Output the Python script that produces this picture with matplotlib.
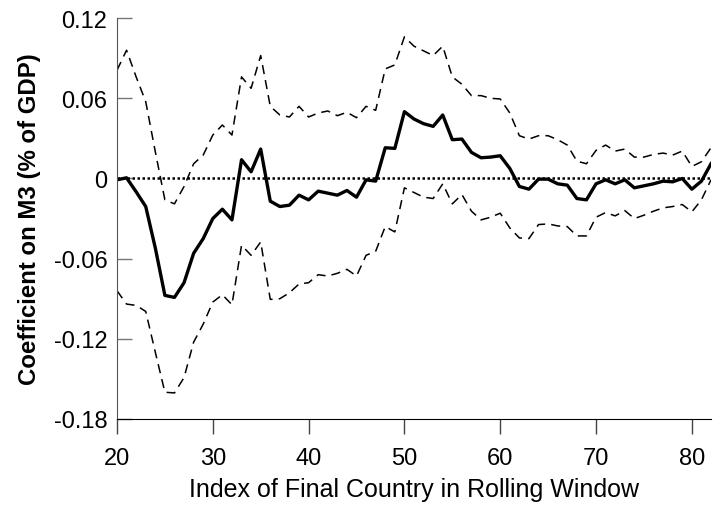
import matplotlib
matplotlib.use("Agg")
import matplotlib.pyplot as plt
import numpy as np

plt.rcParams['font.family'] = ['Liberation Sans', 'DejaVu Sans']

# index of final country in the rolling window
idx = list(range(20, 83))

# point estimate
coef = [-0.001, 0.0005, -0.010, -0.021, -0.052, -0.0875, -0.089, -0.078, -0.056, -0.045,
        -0.030, -0.023, -0.031, 0.014, 0.005, 0.022, -0.017, -0.021, -0.020, -0.0125,
        -0.016, -0.0095, -0.011, -0.0125, -0.009, -0.014, -0.001, -0.002, 0.023, 0.0225,
        0.050, 0.0445, 0.041, 0.039, 0.0475, 0.029, 0.0295, 0.0195, 0.0155, 0.016,
        0.017, 0.0075, -0.006, -0.008, -0.0005, -0.0005, -0.004, -0.005, -0.015, -0.016,
        -0.004, -0.001, -0.004, -0.001, -0.007, -0.0055, -0.004, -0.002, -0.0025, 0.0,
        -0.008, -0.002, 0.011]

# upper band
upper = [0.081, 0.096, 0.076, 0.0575, 0.020, -0.016, -0.019, -0.006, 0.011, 0.0175,
         0.0325, 0.040, 0.0325, 0.076, 0.0675, 0.092, 0.054, 0.0475, 0.046, 0.054,
         0.046, 0.049, 0.0505, 0.047, 0.0495, 0.0455, 0.054, 0.051, 0.082, 0.085,
         0.106, 0.099, 0.0955, 0.092, 0.099, 0.076, 0.0705, 0.062, 0.062, 0.060,
         0.0595, 0.049, 0.032, 0.0295, 0.032, 0.032, 0.029, 0.025, 0.013, 0.011,
         0.021, 0.025, 0.0205, 0.022, 0.016, 0.016, 0.018, 0.019, 0.0175, 0.0205,
         0.009, 0.0125, 0.023]

# lower band
lower = [-0.084, -0.094, -0.095, -0.0995, -0.130, -0.160, -0.1605, -0.149, -0.1225, -0.109,
         -0.0925, -0.087, -0.0945, -0.050, -0.0575, -0.0475, -0.0905, -0.090, -0.0855, -0.079,
         -0.078, -0.072, -0.073, -0.071, -0.068, -0.073, -0.0575, -0.0545, -0.036, -0.040,
         -0.007, -0.0105, -0.014, -0.015, -0.004, -0.019, -0.012, -0.0245, -0.031, -0.029,
         -0.026, -0.037, -0.0445, -0.045, -0.0345, -0.034, -0.0355, -0.036, -0.043, -0.043,
         -0.029, -0.0255, -0.028, -0.024, -0.030, -0.0275, -0.0245, -0.022, -0.021, -0.0195,
         -0.025, -0.016, -0.001]

yticks = [-0.18, -0.12, -0.06, 0, 0.06, 0.12]
ytick_labels = ['-0.18', '-0.12', '-0.06', '0', '0.06', '0.12']
xticks = [20, 30, 40, 50, 60, 70, 80]

fig = plt.figure(figsize=(7.23, 5.10), dpi=100)
ax = fig.add_axes([0.1618, 0.1765, 0.8216, 0.786])

# zero reference line, bands, estimate
ax.plot([20, 82], [0, 0], color='black', lw=1.8, linestyle=(0, (1, 1)))
ax.plot(idx, upper, color='black', lw=1.1, linestyle=(0, (6, 4)))
ax.plot(idx, lower, color='black', lw=1.1, linestyle=(0, (6, 4)))
ax.plot(idx, coef, color='black', lw=2.4)

ax.set_xlim(20, 82)
ax.set_ylim(-0.18, 0.12)
ax.set_xticks(xticks)
ax.set_yticks(yticks)
ax.set_yticklabels(ytick_labels)

ax.spines['top'].set_visible(False)
ax.spines['right'].set_visible(False)
ax.spines['left'].set_color('#555555')
ax.tick_params(axis='y', direction='in', length=11, width=1, color='#777777', labelsize=17, pad=7)
ax.tick_params(axis='x', direction='out', length=11, width=1, color='#444444', labelsize=17, pad=9)

ax.set_xlabel('Index of Final Country in Rolling Window', fontsize=18, labelpad=6)
ax.set_ylabel('Coefficient on M3 (% of GDP)', fontsize=17.3, fontweight='bold', labelpad=9)

fig.savefig('out.png', dpi=100)
